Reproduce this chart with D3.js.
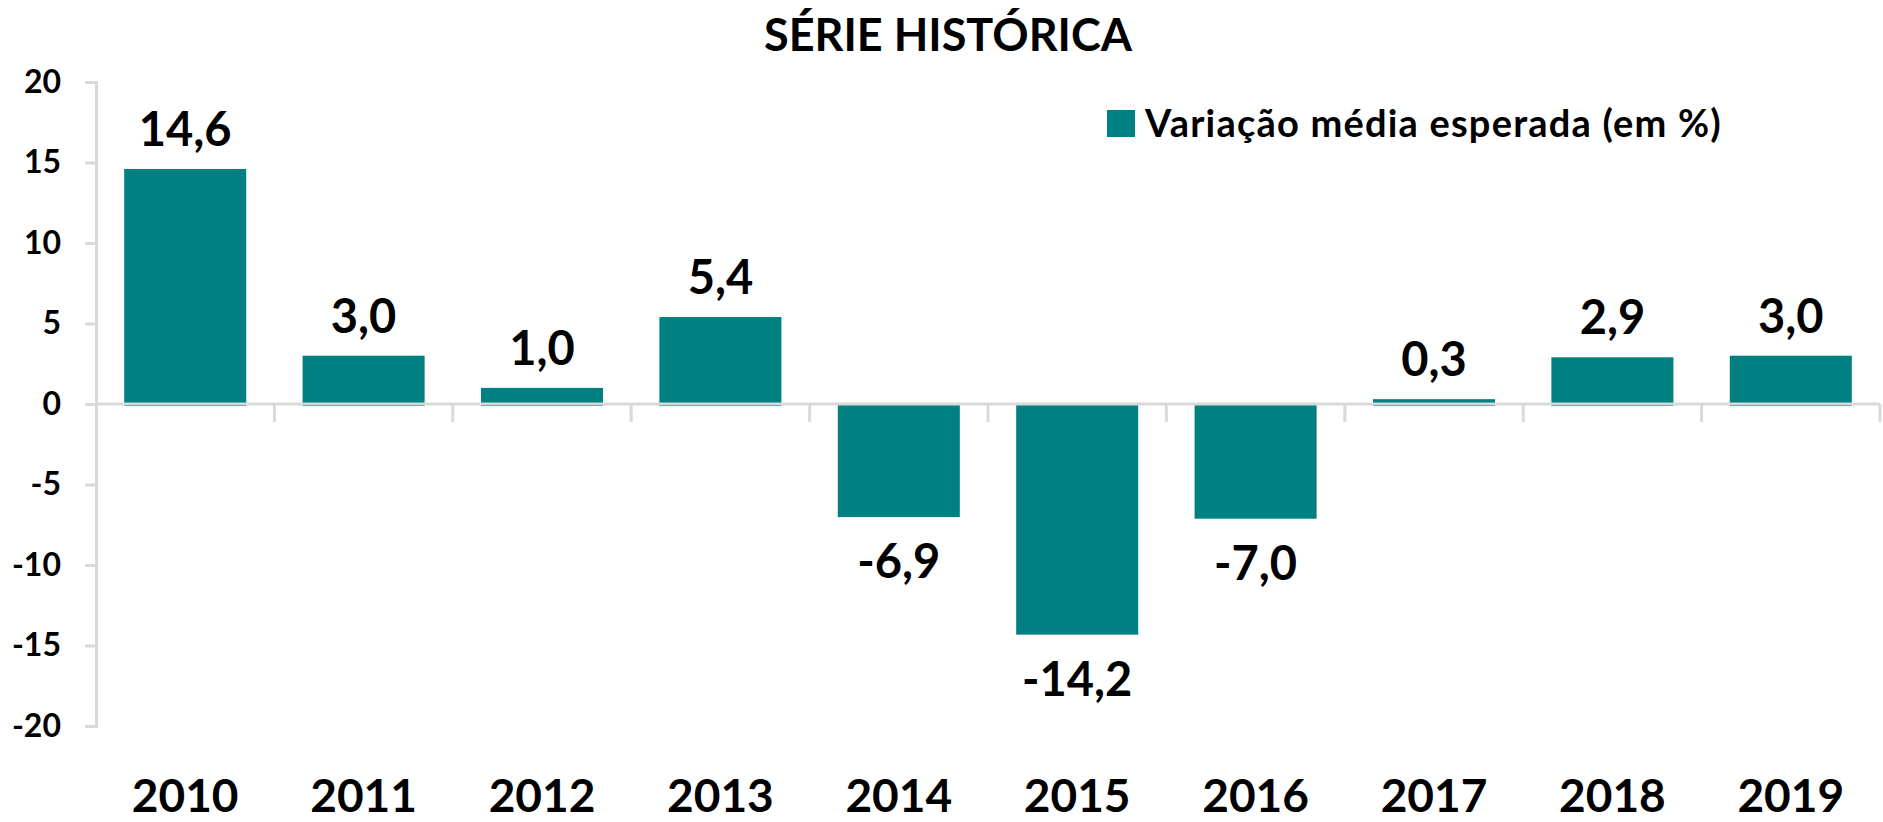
<!DOCTYPE html>
<html>
<head>
<meta charset="utf-8">
<script src="https://cdn.jsdelivr.net/npm/d3@7"></script>
<style>
  body { margin: 0; background: #fff; }
  text { font-family: Lato, "Open Sans", sans-serif; font-weight: bold; fill: #000; }
</style>
</head>
<body>
<div id="chart-area"></div>
<script>
// chart data
var years = ["2010", "2011", "2012", "2013", "2014", "2015", "2016", "2017", "2018", "2019"];
var values = [14.6, 3.0, 1.0, 5.4, -6.9, -14.2, -7.0, 0.3, 2.9, 3.0];
var yTicks = [-20, -15, -10, -5, 0, 5, 10, 15, 20];
var seriesName = "Variação média esperada (em %)";
var title = "SÉRIE HISTÓRICA";

var width = 1883, height = 822;
var teal = "#008080", grid = "#d9d9d9";

var svg = d3.select("#chart-area").append("svg")
    .attr("width", width)
    .attr("height", height);

var x = d3.scaleBand()
    .domain(years)
    .range([96, 1880])
    .paddingInner(0.316)
    .paddingOuter(0.158);

var y = d3.scaleLinear()
    .domain([-20, 20])
    .range([726, 82]);

// bars
svg.selectAll("rect.bar")
    .data(values)
    .enter()
    .append("rect")
        .attr("class", "bar")
        .attr("x", function(d, i) { return x(years[i]); })
        .attr("y", function(d) { return y(Math.max(0, d)); })
        .attr("width", x.bandwidth())
        .attr("height", function(d) { return Math.abs(y(d) - y(0)) + 2; })
        .attr("fill", teal);

// y axis
var yAxis = svg.append("g")
    .attr("transform", "translate(96,0)")
    .call(d3.axisLeft(y)
        .tickValues(yTicks)
        .tickFormat(function(d) { return String(d); })
        .tickSize(11)
        .tickPadding(24));
yAxis.select(".domain").attr("stroke", grid).attr("stroke-width", 3);
yAxis.selectAll(".tick line").attr("stroke", grid).attr("stroke-width", 3);
yAxis.selectAll(".tick text")
    .style("font-size", "32px")
    .attr("fill", "#000");

// x axis at zero, ticks between categories
var bounds = years.map(function(d) { return x(d) - x.step() * x.paddingInner() / 2; });
bounds.push(1880);
svg.append("line")
    .attr("x1", 96).attr("x2", 1880)
    .attr("y1", y(0)).attr("y2", y(0))
    .attr("stroke", grid).attr("stroke-width", 3);
svg.selectAll("line.xtick")
    .data(bounds.slice(1))
    .enter()
    .append("line")
        .attr("class", "xtick")
        .attr("x1", function(d) { return d; })
        .attr("x2", function(d) { return d; })
        .attr("y1", y(0))
        .attr("y2", y(0) + 18)
        .attr("stroke", grid).attr("stroke-width", 3);

// year labels
svg.selectAll("text.year")
    .data(years)
    .enter()
    .append("text")
        .attr("class", "year")
        .attr("x", function(d) { return x(d) + x.bandwidth() / 2; })
        .attr("y", 812)
        .attr("text-anchor", "middle")
        .style("font-size", "46px")
        .text(function(d) { return d; });

// value labels
svg.selectAll("text.val")
    .data(values)
    .enter()
    .append("text")
        .attr("class", "val")
        .attr("x", function(d, i) { return x(years[i]) + x.bandwidth() / 2; })
        .attr("y", function(d) { return d >= 0 ? y(d) - 23 : y(d) + 63; })
        .attr("text-anchor", "middle")
        .style("font-size", "47px")
        .text(function(d) { return d.toFixed(1).replace(".", ","); });

// title
svg.append("text")
    .attr("x", 948)
    .attr("y", 51)
    .attr("text-anchor", "middle")
    .style("font-size", "45px")
    .text(title);

// legend
svg.append("rect")
    .attr("x", 1107).attr("y", 110)
    .attr("width", 28).attr("height", 27)
    .attr("fill", teal);
svg.append("text")
    .attr("x", 1145)
    .attr("y", 137)
    .style("font-size", "38px")
    .style("letter-spacing", "1.2px")
    .text(seriesName);
</script>
</body>
</html>
